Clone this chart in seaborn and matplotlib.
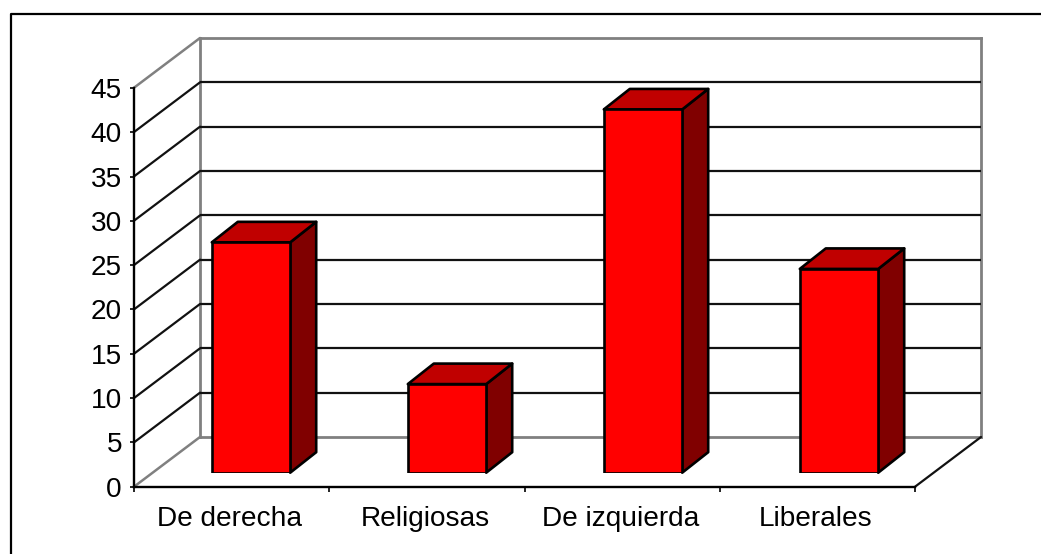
import matplotlib
matplotlib.use("Agg")
import matplotlib.pyplot as plt
from matplotlib.lines import Line2D
import pandas as pd
import seaborn as sns

categories = ["De derecha", "Religiosas", "De izquierda", "Liberales"]
values = [26, 10, 41, 23]
y_ticks = [0, 5, 10, 15, 20, 25, 30, 35, 40, 45]

W, H = 1041, 554
sns.set_theme(style="white")
plt.rcParams["font.family"] = ["Liberation Sans", "DejaVu Sans"]
fig = plt.figure(figsize=(W / 100, H / 100), dpi=100, facecolor="white")


def rect(x0, x1, ytop, ybot):
    return [x0 / W, 1 - ybot / H, (x1 - x0) / W, (ybot - ytop) / H]


PW = 781.0
PH = 398.7
UX = PW / 4
UY = PH / 45
DX = 66.0 / UX
DY = 49.7 / UY
GRAY = "#808080"
LW = 1.6
BAR_LW = 1.9

back = fig.add_axes(rect(200, 981, 38, 437), facecolor="none")
front = fig.add_axes(rect(134, 915, 88, 486.7), facecolor="none")
bars = fig.add_axes(rect(153, 937, 74, 472.7), facecolor="none")

for ax in (back, front, bars):
    ax.set_xlim(-0.5, 3.5)
    ax.set_ylim(0, 45)

# back wall and floor
back.set_xticks([])
back.set_yticks([])
for s in back.spines.values():
    s.set_color(GRAY)
    s.set_linewidth(2.0)
    s.set_zorder(1)
for v in y_ticks[1:-1]:
    back.plot([-0.5, 3.5], [v, v], color="#111111", lw=LW, zorder=2, clip_on=False, solid_capstyle="butt")
    back.plot([-0.5 - DX, -0.5], [v - DY, v], color="#111111", lw=LW, clip_on=False)
for v in (0, 45):
    back.plot([-0.5 - DX, -0.5], [v - DY, v], color=GRAY, lw=1.8, clip_on=False)
back.plot([3.5 - DX, 3.5], [-DY, 0], color="#111111", lw=LW, clip_on=False)

# front axis plane
front.spines["top"].set_visible(False)
front.spines["right"].set_visible(False)
for s in ("left", "bottom"):
    front.spines[s].set_color("black")
    front.spines[s].set_linewidth(1.7)
front.set_yticks(y_ticks)
front.set_yticklabels([str(v) for v in y_ticks])
front.set_xticks([-0.5, 0.5, 1.5, 2.5, 3.5])
front.set_xticklabels([])
front.set_xticks([v - 0.01 for v in range(len(categories))], labels=categories, minor=True)
front.tick_params(axis="y", which="major", left=True, length=3.2, width=1.2, color="black",
                  labelsize=20.2, labelcolor="black", pad=5.5)
front.tick_params(axis="x", which="major", bottom=True, length=3.6, width=1.2, color="black")
front.tick_params(axis="x", which="minor", bottom=False, length=0, labelsize=20.2,
                  labelcolor="black", pad=14)

# bars
df = pd.DataFrame({"categoria": categories, "valor": values})
sns.barplot(data=df, x="categoria", y="valor", ax=bars, color="#FF0000", saturation=1,
            width=0.4, edgecolor="black", linewidth=BAR_LW, zorder=5, errorbar=None)
bars.set_xlim(-0.5, 3.5)
bars.set_ylim(0, 45)
bars.axis("off")
bdx = 26.0 / 196
bdy = 20.5 / UY
for p in bars.patches:
    x0, x1 = p.get_x(), p.get_x() + p.get_width()
    h = p.get_height()
    bars.fill([x1, x1 + bdx, x1 + bdx, x1], [0, bdy, h + bdy, h], facecolor="#800000",
              edgecolor="black", lw=BAR_LW, clip_on=False, zorder=4, joinstyle="round")
    bars.fill([x0, x0 + bdx, x1 + bdx, x1], [h, h + bdy, h + bdy, h], facecolor="#C00000",
              edgecolor="black", lw=BAR_LW, clip_on=False, zorder=4, joinstyle="round")

# outer frame, left and top only
fx, fy = 10.5 / W, 1 - 13.5 / H
fig.add_artist(Line2D([fx, fx, 1], [0, fy, fy], transform=fig.transFigure, color="black", lw=1.6))

fig.savefig("out.png", dpi=100, facecolor="white")
